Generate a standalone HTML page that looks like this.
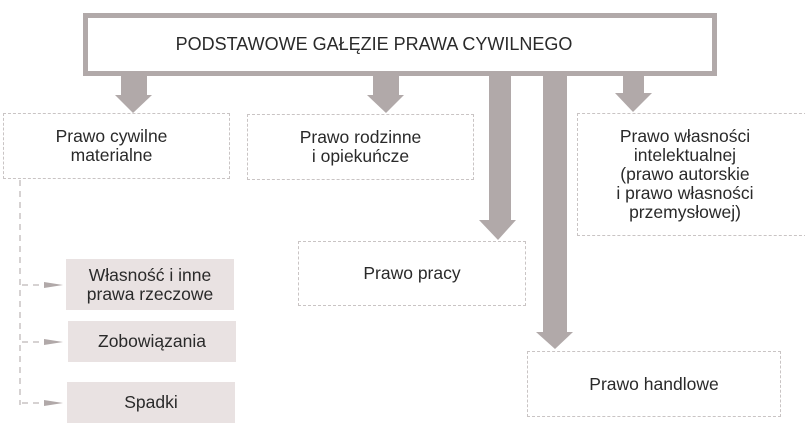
<!DOCTYPE html>
<html><head><meta charset="utf-8"><style>
body{margin:0;background:#fff;width:805px;height:436px;position:relative;overflow:hidden;font-family:"Liberation Sans",sans-serif;color:#2a2a2a}
.b{position:absolute;box-sizing:border-box;display:flex;align-items:center;justify-content:center;text-align:center;font-size:17.5px;line-height:19px}
.d{border:1.5px dashed #c9c4c4}
.f{background:#e9e2e2}
svg{position:absolute;left:0;top:0}
</style></head><body>
<svg width="805" height="436">
<g fill="#b1a9a9">
<rect x="83" y="13" width="634" height="63"/>
<rect x="121" y="76" width="26" height="20"/><polygon points="115,95 152,95 133,113"/>
<rect x="373" y="76" width="26" height="20"/><polygon points="367,95 404,95 386,113"/>
<rect x="489" y="76" width="22" height="145"/><polygon points="479,220 516,220 498,240"/>
<rect x="543" y="76" width="24" height="257"/><polygon points="536,332 573,332 555,349"/>
<rect x="623" y="76" width="21" height="18"/><polygon points="615,93 652,93 633,112"/>
</g>
<rect x="88" y="18" width="624" height="53" fill="#fff"/>
<g stroke="#c9c4c4" stroke-width="1.5" stroke-dasharray="6,5" fill="none">
<line x1="20" y1="180" x2="20" y2="405"/>
<line x1="22" y1="285" x2="48" y2="285"/>
<line x1="22" y1="342" x2="48" y2="342"/>
<line x1="22" y1="403" x2="48" y2="403"/>
</g>
<g fill="#b1a9a9">
<polygon points="44,282 63,285 44,288"/>
<polygon points="44,339 63,342 44,345"/>
<polygon points="44,400 63,403 44,406"/>
</g>
</svg>
<div class="b" style="left:88px;top:18px;width:624px;height:53px;font-size:18px;padding-right:52px">PODSTAWOWE GAŁĘZIE PRAWA CYWILNEGO</div>
<div class="b d" style="left:3px;top:113px;width:227px;height:66px;padding-right:10px">Prawo cywilne<br>materialne</div>
<div class="b d" style="left:247px;top:114px;width:227px;height:66px">Prawo rodzinne<br>i opiekuńcze</div>
<div class="b d" style="left:298px;top:241px;width:228px;height:65px">Prawo pracy</div>
<div class="b d" style="left:527px;top:351px;width:254px;height:66px">Prawo handlowe</div>
<div class="b d" style="left:577px;top:113px;width:230px;height:123px;padding-right:14px">Prawo własności<br>intelektualnej<br>(prawo autorskie<br>i prawo własności<br>przemysłowej)</div>
<div class="b f" style="left:66px;top:259px;width:168px;height:51px">Własność i inne<br>prawa rzeczowe</div>
<div class="b f" style="left:68px;top:321px;width:168px;height:41px">Zobowiązania</div>
<div class="b f" style="left:67px;top:382px;width:168px;height:41px">Spadki</div>
</body></html>
